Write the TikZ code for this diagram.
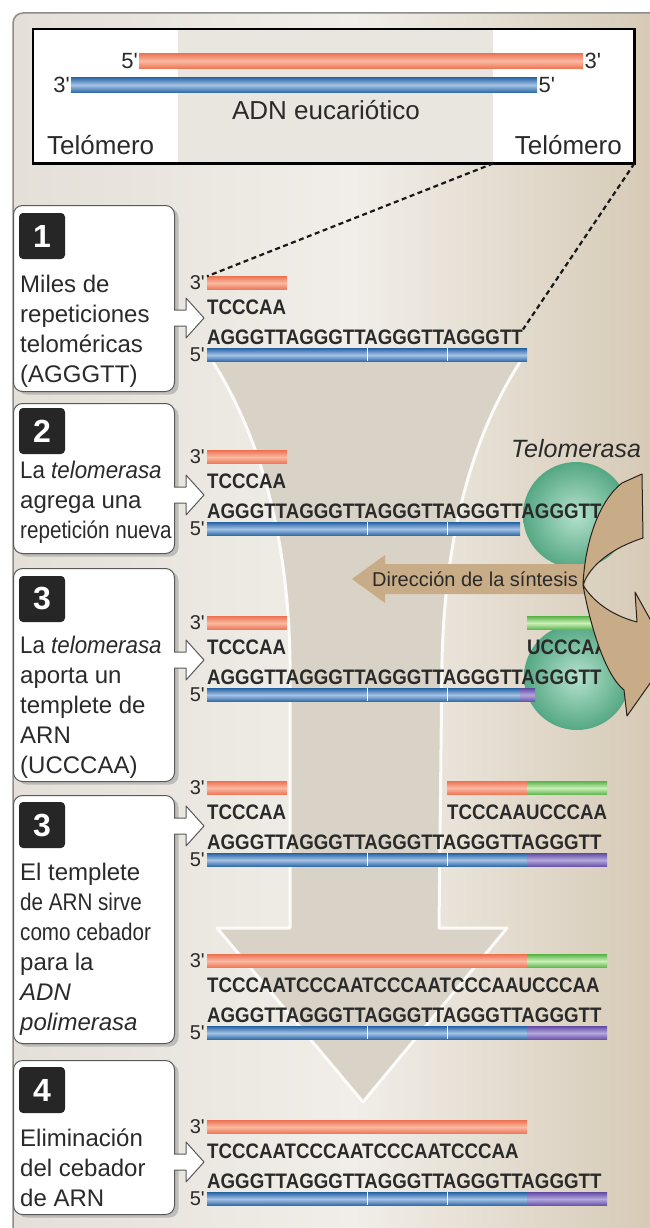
\documentclass[tikz,border=0pt]{standalone}
\usepackage{fontspec}
\setmainfont{Liberation Sans}
\newfontfamily\seqfont[FakeStretch=0.89]{Liberation Sans}
\newfontfamily\narrowfont[FakeStretch=0.86]{Liberation Sans}
\newfontfamily\midfont[FakeStretch=0.93]{Liberation Sans}
\usetikzlibrary{shadows,positioning}

\definecolor{panelleft}{HTML}{E4DFD7}
\definecolor{panelmid}{HTML}{F1EEE9}
\definecolor{panelright}{HTML}{D3C6B0}
\definecolor{funnel}{HTML}{D9D2C7}
\definecolor{bandgrey}{HTML}{E9E6E0}
\definecolor{arrowtan}{HTML}{C7AC87}
\definecolor{ink}{HTML}{2A2A2A}
\definecolor{redtop}{HTML}{EE7556}
\definecolor{redmid}{HTML}{F9B9A2}
\definecolor{bluetop}{HTML}{2C68A8}
\definecolor{bluemid}{HTML}{A6C3E4}
\definecolor{greentop}{HTML}{5DB64E}
\definecolor{greenmid}{HTML}{CDEFB8}
\definecolor{purpletop}{HTML}{6650A6}
\definecolor{purplemid}{HTML}{B4A8DC}
\definecolor{enzyme}{HTML}{55A784}
\definecolor{enzymelight}{HTML}{B4E2CC}

\newcommand\primemark{\textquotesingle}
% strand piece: style, name, from x, to x, at y
\newcommand\strandbar[5]{%
  \node[#1, anchor=west, minimum width={(#4-#3)*1pt}] (#2) at (#3,#5) {};}
% white pointer leaving a step box
\newcommand\callout[1]{%
  \fill[white] (166,#1-8) -- (186,#1-8) -- (186,#1-20) -- (204,#1) -- (186,#1+20) -- (186,#1+8) -- (166,#1+8) -- cycle;
  \draw[black!65, line width=1pt, line join=round] (174,#1-8) -- (186,#1-8) -- (186,#1-20) -- (204,#1) -- (186,#1+20) -- (186,#1+8) -- (174,#1+8);}

\tikzset{
  strand/.style={rectangle, inner sep=0pt, minimum height=13pt},
  redstrand/.style={strand, top color=redtop, bottom color=redtop, middle color=redmid},
  bluestrand/.style={strand, top color=bluetop, bottom color=bluetop, middle color=bluemid},
  greenstrand/.style={strand, top color=greentop, bottom color=greentop, middle color=greenmid},
  purplestrand/.style={strand, top color=purpletop, bottom color=purpletop, middle color=purplemid},
  seq/.style={anchor=west, inner sep=0pt, text=ink, font=\seqfont\bfseries\fontsize{21}{21}\selectfont},
  prime/.style={anchor=east, inner sep=0pt, xshift=-2pt, text=ink, font=\fontsize{20}{20}\selectfont},
  bigprime/.style={inner sep=1pt, text=ink, font=\fontsize{22}{22}\selectfont},
  title/.style={inner sep=0pt, text=ink, font=\fontsize{26}{26}\selectfont},
  zoomline/.style={line width=2.2pt, dash pattern=on 5pt off 3.5pt, black!90},
  enzymeball/.style={circle, minimum size=106pt, inner sep=0pt, inner color=enzymelight, outer color=enzyme},
  curl/.style={fill=arrowtan, draw=black!80!arrowtan, line width=1pt, line join=round},
  stepbox/.style={
      rectangle,
      anchor=north west,
      inner sep=0pt,
      minimum width=161pt,
      rounded corners=9pt,
      line width=1pt,
      draw=black!65,
      fill=white,
      drop shadow={shadow xshift=4pt, shadow yshift=-3pt, opacity=.4}
  },
  stepnum/.style={rectangle, rounded corners=4pt, fill=black!85, text=white,
      minimum size=46pt, inner sep=0pt, font=\bfseries\fontsize{32}{32}\selectfont},
  steptext/.style={anchor=north west, align=left, inner sep=0pt, text=ink,
      font=\fontsize{24}{30}\selectfont}
}

\begin{document}
\begin{tikzpicture}[x=1pt,y=-1pt]
  \useasboundingbox (0,0) rectangle (649,1228);

  % panel
  \shade[left color=panelleft, right color=panelright, middle color=panelmid, rounded corners=10pt]
    (13,13) rectangle (690,1270);
  \draw[black!45, line width=1.5pt, rounded corners=10pt] (690,13) -- (13,13) -- (13,1270);

  % big arrow behind the rows
  \fill[funnel] (213,362) .. controls (262,440) and (288,540) .. (290,660) -- (290,928)
    -- (217,928) -- (363,1102) -- (507,928) -- (439,928) -- (442,660)
    .. controls (445,540) and (470,440) .. (520,362) -- cycle;
  \draw[white, line width=3pt, opacity=.9, line join=round] (213,362) .. controls (262,440) and (288,540) .. (290,660) -- (290,928)
    -- (217,928) -- (363,1102) -- (507,928) -- (439,928) -- (442,660)
    .. controls (445,540) and (470,440) .. (520,362);

  % chromosome
  \node[fill=white, anchor=north west, inner sep=0pt, minimum width=601pt, minimum height=134pt] (adn) at (33,29) {};
  \node[fill=bandgrey, anchor=north west, inner sep=0pt, minimum width=315pt, minimum height=134pt] (eucar) at (178,29) {};
  \draw[line width=2.5pt] (adn.north west) rectangle (adn.south east);
  \strandbar{redstrand, minimum height=15pt}{top5}{139}{583}{61}
  \strandbar{bluestrand, minimum height=15pt}{top3}{71}{537}{85}
  \node[bigprime, anchor=east] (t5a) at (top5.west) {5\primemark};
  \node[bigprime, anchor=west] (t3a) at (top5.east) {3\primemark};
  \node[bigprime, anchor=east] (t3b) at (top3.west) {3\primemark};
  \node[bigprime, anchor=west] (t5b) at (top3.east) {5\primemark};
  \node[title] (eu) at (326,110) {ADN eucariótico};
  \node[title, anchor=west] (telL) at (47,145) {Telómero};
  \node[title, anchor=east] (telR) at (622,145) {Telómero};

  % telomerase
  \node[enzymeball] (tel1) at (576,515) {};
  \node[enzymeball] (tel2) at (577,677) {};

  % row 1
  \strandbar{redstrand}{r1}{207}{287}{283}
  \node[seq] (c1) at (207,307) {TCCCAA};
  \node[seq] (s1) at (207,337) {AGGGTTAGGGTTAGGGTTAGGGTT};
  \strandbar{bluestrand}{b1}{207}{527}{355}
  \draw[zoomline] (eucar.south east) -- (r1.north west);
  \draw[zoomline] (adn.south east) -- (s1.north east);

  % row 2
  \strandbar{redstrand}{r2}{207}{287}{457}
  \node[seq] (c2) at (207,481) {TCCCAA};
  \node[seq] (s2) at (207,511) {AGGGTTAGGGTTAGGGTTAGGGTTAGGGTT};
  \strandbar{bluestrand}{b2}{207}{520}{529}

  % row 3
  \strandbar{redstrand}{r3}{207}{287}{623}
  \strandbar{greenstrand}{g3}{527}{607}{623}
  \node[seq] (c3) at (207,647) {TCCCAA};
  \node[seq] (u3) at (527,647) {UCCCAA};
  \node[seq] (s3) at (207,677) {AGGGTTAGGGTTAGGGTTAGGGTTAGGGTT};
  \strandbar{bluestrand}{b3}{207}{520}{695}
  \strandbar{purplestrand}{v3}{520}{535}{695}

  % row 4
  \strandbar{redstrand}{r4}{207}{287}{788}
  \strandbar{redstrand}{r4b}{447}{527}{788}
  \strandbar{greenstrand}{g4}{527}{607}{788}
  \node[seq] (c4) at (207,812) {TCCCAA};
  \node[seq] (c4b) at (447,812) {TCCCAAUCCCAA};
  \node[seq] (s4) at (207,842) {AGGGTTAGGGTTAGGGTTAGGGTTAGGGTT};
  \strandbar{bluestrand}{b4}{207}{527}{860}
  \strandbar{purplestrand}{v4}{527}{607}{860}

  % row 5
  \strandbar{redstrand}{r5}{207}{527}{961}
  \strandbar{greenstrand}{g5}{527}{607}{961}
  \node[seq] (c5) at (207,985) {TCCCAATCCCAATCCCAATCCCAAUCCCAA};
  \node[seq] (s5) at (207,1015) {AGGGTTAGGGTTAGGGTTAGGGTTAGGGTT};
  \strandbar{bluestrand}{b5}{207}{527}{1033}
  \strandbar{purplestrand}{v5}{527}{607}{1033}

  % row 6
  \strandbar{redstrand}{r6}{207}{527}{1127}
  \node[seq] (c6) at (207,1151) {TCCCAATCCCAATCCCAATCCCAA};
  \node[seq] (s6) at (207,1181) {AGGGTTAGGGTTAGGGTTAGGGTTAGGGTT};
  \strandbar{bluestrand}{b6}{207}{527}{1199}
  \strandbar{purplestrand}{v6}{527}{607}{1199}

  \foreach \b in {b1,b2,b3,b4,b5,b6}
    \draw[white, line width=1pt] (\b.north west) ++(160,0) -- ++(0,13) ++(80,-13) -- ++(0,13);
  \foreach \r in {1,...,6} {
    \node[prime] (p3r\r) at (r\r.west) {3\primemark};
    \node[prime] (p5r\r) at (b\r.west) {5\primemark};
  }

  % direction of synthesis
  \node[anchor=west, inner sep=0pt, text=ink, font=\itshape\fontsize{25}{25}\selectfont] (telname) at (511,449) {Telomerasa};
  \fill[arrowtan] (352,579) -- (385,555) -- (385,564) -- (585,564) -- (585,594) -- (385,594) -- (385,603) -- cycle;
  \node[inner sep=0pt, text=ink, font=\fontsize{20}{20}\selectfont] (dir) at (475,579) {Dirección de la síntesis};
  \filldraw[curl] (583,585) .. controls (585,540) and (600,500) .. (622,483) -- (642,474) -- (643,538)
    .. controls (612,548) and (590,565) .. (583,585) -- cycle;
  \filldraw[curl] (583,585) .. controls (592,600) and (610,615) .. (637,622) -- (635,592) -- (670,655)
    -- (627,716) -- (624,690) .. controls (605,675) and (590,625) .. (583,585) -- cycle;

  % steps
  \node[stepbox, minimum height=186pt] (step1) at (13,205) {};
  \node[stepnum] (num1) at ([shift={(29,31)}]step1.north west) {1};
  \node[steptext] (txt1) at ([shift={(7,70)}]step1.north west) {Miles de\\repeticiones\\teloméricas\\(AGGGTT)};
  \callout{318}

  \node[stepbox, minimum height=150pt] (step2) at (13,403) {};
  \node[stepnum] (num2) at ([shift={(29,28)}]step2.north west) {2};
  \node[steptext] (txt2) at ([shift={(7,58)}]step2.north west) {{\midfont La \textit{telomerasa}}\\agrega una\\{\narrowfont repetición nueva}};
  \callout{495}

  \node[stepbox, minimum height=213pt] (step3) at (13,568) {};
  \node[stepnum] (num3) at ([shift={(29,31)}]step3.north west) {3};
  \node[steptext] (txt3) at ([shift={(7,68)}]step3.north west) {{\midfont La \textit{telomerasa}}\\aporta un\\templete de\\ARN\\(UCCCAA)};
  \callout{660}

  \node[stepbox, minimum height=248pt] (step3b) at (13,795) {};
  \node[stepnum] (num3b) at ([shift={(29,30)}]step3b.north west) {3};
  \node[steptext] (txt3b) at ([shift={(7,68)}]step3b.north west) {El templete\\{\narrowfont de ARN sirve}\\{\narrowfont como cebador}\\para la\\\textit{ADN}\\\textit{polimerasa}};
  \callout{826}

  \node[stepbox, minimum height=154pt] (step4) at (13,1060) {};
  \node[stepnum] (num4) at ([shift={(29,30)}]step4.north west) {4};
  \node[steptext] (txt4) at ([shift={(7,69)}]step4.north west) {Eliminación\\del cebador\\de ARN};
  \callout{1162}
\end{tikzpicture}
\end{document}
